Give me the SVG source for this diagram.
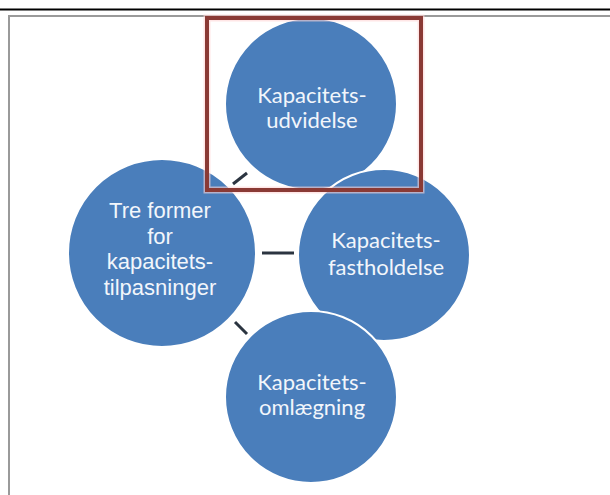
<svg xmlns="http://www.w3.org/2000/svg" width="610" height="495" viewBox="0 0 610 495">
<style>
.c{fill:#4a7ebb;stroke:#ffffff;stroke-width:2}
.t{fill:#f2f6fb;font-family:Lato,"Open Sans","Liberation Sans",sans-serif;font-size:22px;text-anchor:middle}
.a{fill:#f2f6fb;font-family:"Liberation Sans",Arial,sans-serif;font-size:22px;text-anchor:middle}
.k{stroke:#2b3440;stroke-width:3;stroke-linecap:butt}
</style>
<rect x="0" y="0" width="610" height="495" fill="#ffffff"/>
<line x1="0" y1="9.5" x2="610" y2="9.5" stroke="#000000" stroke-width="2"/>
<path d="M9 495 V16 H610" fill="none" stroke="#9a9a9a" stroke-width="2"/>
<g id="connectors">
<line class="k" x1="233" y1="184" x2="247" y2="173"/>
<line class="k" x1="262" y1="253" x2="294" y2="253"/>
<line class="k" x1="235" y1="322" x2="247" y2="334"/>
</g>
<g id="top">
<circle class="c" cx="311" cy="104" r="86"/>
<text class="t" x="312" y="103">Kapacitets-</text>
<text class="t" x="312" y="128">udvidelse</text>
</g>
<g id="left">
<circle class="c" cx="162" cy="253" r="94"/>
<text class="a" x="160" y="218">Tre former</text>
<text class="a" x="160" y="244">for</text>
<text class="a" x="160" y="269">kapacitets-</text>
<text class="a" x="160" y="295">tilpasninger</text>
</g>
<g id="right">
<circle class="c" cx="384" cy="255" r="86"/>
<text class="t" x="386" y="248">Kapacitets-</text>
<text class="t" x="386" y="275">fastholdelse</text>
</g>
<g id="bottom">
<circle class="c" cx="311" cy="397" r="86"/>
<text class="t" x="312" y="390">Kapacitets-</text>
<text class="t" x="312" y="415">omlægning</text>
</g>
<g id="highlight">
<rect x="207" y="18" width="214" height="172" fill="none" stroke="#ffd6d6" stroke-width="7" opacity="0.6"/>
<rect x="207" y="18" width="214" height="172" fill="none" stroke="#8a3a35" stroke-width="4"/>
</g>
</svg>
